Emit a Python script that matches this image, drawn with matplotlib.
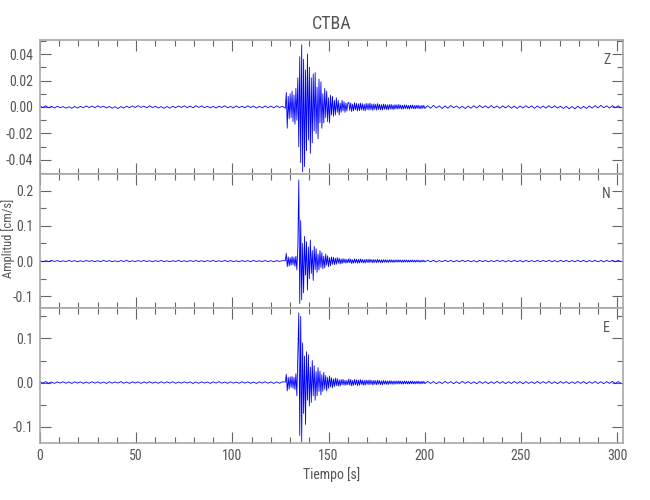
import numpy as np
import matplotlib
matplotlib.use("Agg")
import matplotlib.pyplot as plt
from matplotlib.ticker import MultipleLocator, FormatStrFormatter
from matplotlib import font_manager

avail = {f.name for f in font_manager.fontManager.ttflist}
fam = [f for f in ['DejaVu Sans Condensed', 'Liberation Sans Narrow', 'Roboto Condensed'] if f in avail]
plt.rcParams['font.family'] = fam + ['DejaVu Sans']
condensed = len(fam) > 0

# ---------------- data ----------------
# Z values in 1e-3 cm/s, N and E values in 1e-2 cm/s
title = "CTBA"
components = ["Z", "N", "E"]

pre_start, pre_step = 0.0, 1.5
burst_start, burst_step = 127.5, 0.5
coda_start, coda_step = 160.5, 0.5
post_start, post_step = 201.5, 1.5

z_pre = [0.7, -0.4, 0.9, -0.6, 0.5, -0.8, 0.6, -0.5, 0.3, -0.9,
         0.2, -1.0, 0.4, -0.8, 0.5, -0.6, 0.8, -0.4, 0.7, -0.5,
         0.9, -0.3, 0.6, -0.7, 0.4, -0.9, 0.2, -1.1, 0.3, -0.8,
         0.6, -0.5, 0.8, -0.4, 1.0, -0.3, 0.7, -0.6, 0.9, -0.4,
         0.5, -0.8, 0.3, -1.0, 0.4, -0.9, 0.6, -0.5, 0.8, -0.4,
         0.9, -0.5, 0.7, -0.6, 1.0, -0.3, 0.8, -0.5, 0.6, -0.7,
         0.5, -0.8, 0.7, -0.4, 0.9, -0.6, 0.4, -0.7, 0.8, -0.5,
         0.6, -0.6, 0.9, -0.4, 0.7, -0.8, 0.5, -0.6, 0.8, -0.5,
         0.7, -0.6, 0.9, -0.4, 0.6]
z_burst = [-1, 11, -16, 8, -9, 10, -8, 12, -11, 9,
           -13, 14, -10, 22, -30, 38, -42, 47, -49, 36,
           -45, 28, -33, 40, -25, 30, -35, 22, -27, 25,
           -18, 26, -20, 15, -24, 21, -12, 19, -16, 10,
           -12, 14, -8, 12, -11, 7, -12, 9, -6, 8,
           -7, 5, -6, 7, -4, 5, -6, 3, -4, 5,
           -3, 4, -4, 3, -3, 3]
z_coda = [3.5, -2.6, 3.1, -3.4, 2.2, -2.9, 3.3, -2.1, 2.7, -3.0,
          2.4, -2.8, 3.0, -2.2, 2.6, -2.5, 2.0, -2.9, 2.8, -1.9,
          2.5, -2.3, 2.9, -2.0, 2.2, -2.6, 2.4, -1.8, 2.1, -2.4,
          2.6, -1.9, 2.0, -2.2, 1.8, -2.3, 2.2, -1.7, 2.0, -1.9,
          1.7, -2.1, 1.9, -1.6, 2.0, -1.8, 1.5, -1.9, 1.8, -1.4,
          1.7, -1.6, 1.9, -1.3, 1.5, -1.7, 1.4, -1.5, 1.6, -1.2,
          1.5, -1.4, 1.2, -1.6, 1.4, -1.1, 1.5, -1.3, 1.2, -1.4,
          1.3, -1.1, 1.4, -1.2, 1.0, -1.3, 1.2, -1.0, 1.3, -1.1]
z_post = [1.0, -0.9, 1.2, -0.7, 0.9, -1.1, 0.8, -0.9, 1.1, -0.6,
          0.8, -1.0, 0.6, -1.2, 0.7, -0.9, 1.0, -0.8, 1.2, -0.6,
          0.9, -0.8, 1.1, -0.7, 0.8, -1.0, 0.9, -0.7, 1.0, -0.9,
          0.7, -1.1, 0.8, -0.8, 1.0, -0.7, 0.9, -1.0, 0.8, -0.9,
          0.8, -0.9, 1.0, -0.7, 0.9, -0.8, 0.6, -1.1, 0.5, -1.3,
          0.4, -1.4, 0.6, -1.2, 0.5, -1.1, 0.8, -0.9, 1.0, -0.7,
          1.2, -0.6, 0.9, -0.8, 1.0, -0.5, 0.9, -0.7]

n_pre = [0.12, -0.18, 0.1, -0.14, 0.2, -0.1, 0.15, -0.16, 0.08, -0.13,
         0.17, -0.11, 0.14, -0.19, 0.1, -0.12, 0.16, -0.09, 0.13, -0.17,
         0.11, -0.15, 0.18, -0.1, 0.12, -0.14, 0.09, -0.16, 0.15, -0.11,
         0.19, -0.13, 0.1, -0.15, 0.14, -0.1, 0.17, -0.12, 0.11, -0.18,
         0.13, -0.1, 0.16, -0.14, 0.09, -0.17, 0.12, -0.11, 0.18, -0.13,
         0.1, -0.16, 0.14, -0.09, 0.15, -0.12, 0.11, -0.17, 0.13, -0.1,
         0.17, -0.14, 0.1, -0.12, 0.16, -0.11, 0.13, -0.15, 0.09, -0.18,
         0.14, -0.1, 0.12, -0.16, 0.18, -0.11, 0.1, -0.13, 0.15, -0.12,
         0.11, -0.17, 0.14, -0.1, 0.13]
n_burst = [0.1, 2.2, -1.6, 1.2, -1.4, 1.0, -1.2, 1.3, -1.0, 1.1,
           -1.5, 1.4, -2.5, 4.0, 23.0, -12.0, 11.5, -11.0, 5.0, -9.0,
           7.0, -4.0, 5.5, -8.2, 4.0, -5.0, 6.0, -3.5, 3.0, -5.5,
           4.2, -2.5, 3.5, -3.2, 2.0, -2.5, 3.0, -1.8, 2.4, -2.2,
           1.4, -1.9, 2.0, -1.2, 1.5, -1.6, 1.0, -1.3, 1.2, -0.9,
           1.1, -1.0, 0.8, -0.9, 1.0, -0.6, 0.8, -0.8, 0.6, -0.7,
           0.7, -0.5, 0.6, -0.6, 0.5, -0.5]
n_coda = [0.7, -0.5, 0.6, -0.7, 0.4, -0.6, 0.65, -0.45, 0.55, -0.6,
          0.5, -0.55, 0.6, -0.4, 0.5, -0.5, 0.45, -0.55, 0.5, -0.38,
          0.48, -0.45, 0.55, -0.35, 0.42, -0.5, 0.45, -0.36, 0.4, -0.46,
          0.5, -0.34, 0.38, -0.42, 0.36, -0.44, 0.4, -0.32, 0.38, -0.36,
          0.33, -0.4, 0.36, -0.3, 0.38, -0.34, 0.3, -0.36, 0.34, -0.28,
          0.32, -0.3, 0.35, -0.26, 0.3, -0.32, 0.28, -0.3, 0.31, -0.25,
          0.3, -0.28, 0.25, -0.3, 0.28, -0.24, 0.3, -0.26, 0.24, -0.28,
          0.26, -0.22, 0.28, -0.24, 0.2, -0.26, 0.24, -0.2, 0.25, -0.22]
n_post = [0.22, -0.18, 0.2, -0.24, 0.16, -0.2, 0.23, -0.15, 0.19, -0.22,
          0.17, -0.2, 0.24, -0.16, 0.2, -0.19, 0.15, -0.23, 0.21, -0.17,
          0.19, -0.21, 0.16, -0.18, 0.23, -0.15, 0.2, -0.22, 0.17, -0.19,
          0.22, -0.16, 0.18, -0.23, 0.2, -0.17, 0.15, -0.2, 0.22, -0.18,
          0.19, -0.16, 0.23, -0.2, 0.17, -0.22, 0.2, -0.15, 0.18, -0.21,
          0.16, -0.19, 0.22, -0.17, 0.2, -0.23, 0.18, -0.16, 0.21, -0.2,
          0.17, -0.22, 0.19, -0.16, 0.23, -0.18, 0.2, -0.17]

e_pre = [0.16, -0.13, 0.2, -0.17, 0.12, -0.19, 0.15, -0.11, 0.18, -0.16,
         0.13, -0.2, 0.17, -0.12, 0.15, -0.18, 0.11, -0.15, 0.19, -0.13,
         0.16, -0.17, 0.12, -0.2, 0.18, -0.14, 0.15, -0.12, 0.2, -0.16,
         0.13, -0.18, 0.17, -0.11, 0.15, -0.19, 0.14, -0.13, 0.18, -0.15,
         0.12, -0.17, 0.2, -0.14, 0.16, -0.12, 0.19, -0.17, 0.13, -0.15,
         0.17, -0.11, 0.15, -0.2, 0.12, -0.16, 0.18, -0.13, 0.14, -0.19,
         0.16, -0.12, 0.2, -0.15, 0.13, -0.18, 0.17, -0.14, 0.12, -0.16,
         0.19, -0.13, 0.15, -0.17, 0.11, -0.2, 0.16, -0.12, 0.18, -0.15,
         0.14, -0.19, 0.13, -0.16, 0.17]
e_burst = [0.1, 1.9, -1.9, 1.2, -1.5, 1.3, -1.1, 1.4, -1.3, 1.2,
           -1.6, 2.0, -3.0, 6.0, 15.8, -12.0, 15.0, -13.4, 9.0, -7.0,
           6.0, -9.5, 7.0, -4.0, 6.3, -5.3, 3.5, -4.5, 5.0, -3.0,
           3.8, -4.0, 2.5, -3.0, 3.4, -2.0, 2.6, -2.8, 1.8, -2.0,
           2.3, -1.5, 1.6, -1.9, 1.2, -1.3, 1.5, -1.0, 1.1, -1.2,
           0.8, -0.9, 1.0, -0.7, 0.9, -0.8, 0.6, -0.8, 0.7, -0.5,
           0.7, -0.6, 0.5, -0.6, 0.5, -0.5]
e_coda = [0.8, -0.6, 0.7, -0.75, 0.5, -0.65, 0.72, -0.5, 0.6, -0.7,
          0.55, -0.62, 0.68, -0.45, 0.58, -0.6, 0.5, -0.62, 0.56, -0.42,
          0.55, -0.5, 0.6, -0.4, 0.48, -0.55, 0.5, -0.4, 0.46, -0.52,
          0.55, -0.38, 0.44, -0.48, 0.4, -0.5, 0.46, -0.36, 0.42, -0.4,
          0.38, -0.45, 0.4, -0.34, 0.42, -0.38, 0.34, -0.4, 0.38, -0.32,
          0.36, -0.34, 0.4, -0.3, 0.34, -0.36, 0.32, -0.34, 0.35, -0.28,
          0.34, -0.32, 0.28, -0.34, 0.32, -0.27, 0.33, -0.3, 0.27, -0.32,
          0.3, -0.25, 0.32, -0.27, 0.24, -0.3, 0.27, -0.23, 0.28, -0.25]
e_post = [0.25, -0.2, 0.23, -0.27, 0.18, -0.22, 0.26, -0.17, 0.21, -0.25,
          0.19, -0.23, 0.27, -0.18, 0.22, -0.21, 0.17, -0.26, 0.24, -0.19,
          0.21, -0.24, 0.18, -0.2, 0.26, -0.17, 0.22, -0.25, 0.19, -0.21,
          0.25, -0.18, 0.2, -0.26, 0.22, -0.19, 0.17, -0.22, 0.25, -0.2,
          0.21, -0.18, 0.26, -0.22, 0.19, -0.25, 0.22, -0.17, 0.2, -0.24,
          0.18, -0.21, 0.25, -0.19, 0.22, -0.26, 0.2, -0.18, 0.24, -0.22,
          0.19, -0.25, 0.21, -0.18, 0.26, -0.2, 0.22, -0.19]

scales = {"Z": 1e-3, "N": 1e-2, "E": 1e-2}
segments = {"Z": (z_pre, z_burst, z_coda, z_post),
            "N": (n_pre, n_burst, n_coda, n_post),
            "E": (e_pre, e_burst, e_coda, e_post)}

ylims = {"Z": (-0.0506, 0.0506), "N": (-0.133, 0.247), "E": (-0.137, 0.169)}
ymajor = {"Z": 0.02, "N": 0.1, "E": 0.1}
yminor = {"Z": 0.01, "N": 0.05, "E": 0.05}
yfmt = {"Z": "%.2f", "N": "%.1f", "E": "%.1f"}
x_max = 303.0


def build(comp):
    pre, burst, coda, post = segments[comp]
    t = np.concatenate([
        pre_start + pre_step * np.arange(len(pre)),
        burst_start + burst_step * np.arange(len(burst)),
        coda_start + coda_step * np.arange(len(coda)),
        post_start + post_step * np.arange(len(post)),
    ])
    v = np.concatenate([pre, burst, coda, post]) * scales[comp]
    return t, v


# ---------------- figure ----------------
fig = plt.figure(figsize=(6.5, 5.0), dpi=100)
left, width = 40 / 650, 583 / 650
tops = [40, 174, 308]
bottoms = [174, 308, 443]
text_col = "#555555"
frame_col = "#a8a8a8"
tick_col = "#666666"
fs = 10 if condensed else 9

axes = []
for i, comp in enumerate(components):
    b = 1 - bottoms[i] / 500
    h = (bottoms[i] - tops[i]) / 500
    ax = fig.add_axes([left, b, width, h])
    t, v = build(comp)
    ax.plot(t, v, color="#0000ff", lw=0.6)
    ax.set_xlim(0, x_max)
    ax.set_ylim(*ylims[comp])
    ax.xaxis.set_major_locator(MultipleLocator(50))
    ax.xaxis.set_minor_locator(MultipleLocator(10))
    ax.yaxis.set_major_locator(MultipleLocator(ymajor[comp]))
    ax.yaxis.set_minor_locator(MultipleLocator(yminor[comp]))
    ax.yaxis.set_major_formatter(FormatStrFormatter(yfmt[comp]))
    ax.tick_params(which="both", direction="in", top=True, right=True,
                   color=tick_col, labelcolor=text_col, labelsize=fs)
    ax.tick_params(axis="y", pad=5)
    ax.tick_params(axis="x", pad=4)
    ax.tick_params(which="major", length=8, width=0.8)
    ax.tick_params(which="minor", length=4, width=0.8)
    for s in ax.spines.values():
        s.set_color(frame_col)
        s.set_linewidth(1.2)
    if i < 2:
        ax.tick_params(labelbottom=False)
    ax.text(0.972, 0.85, comp, transform=ax.transAxes, ha="center", va="center",
            color=text_col, fontsize=fs)
    axes.append(ax)

axes[0].set_title(title, color=text_col, fontsize=13, pad=8)
axes[2].set_xlabel("Tiempo [s]", color=text_col, fontsize=fs, labelpad=3)
fig.text(8 / 650, 1 - 238 / 500, "Amplitud [cm/s]", rotation=90, ha="center",
         va="center", color=text_col, fontsize=9)

fig.savefig("out.png", dpi=100)
